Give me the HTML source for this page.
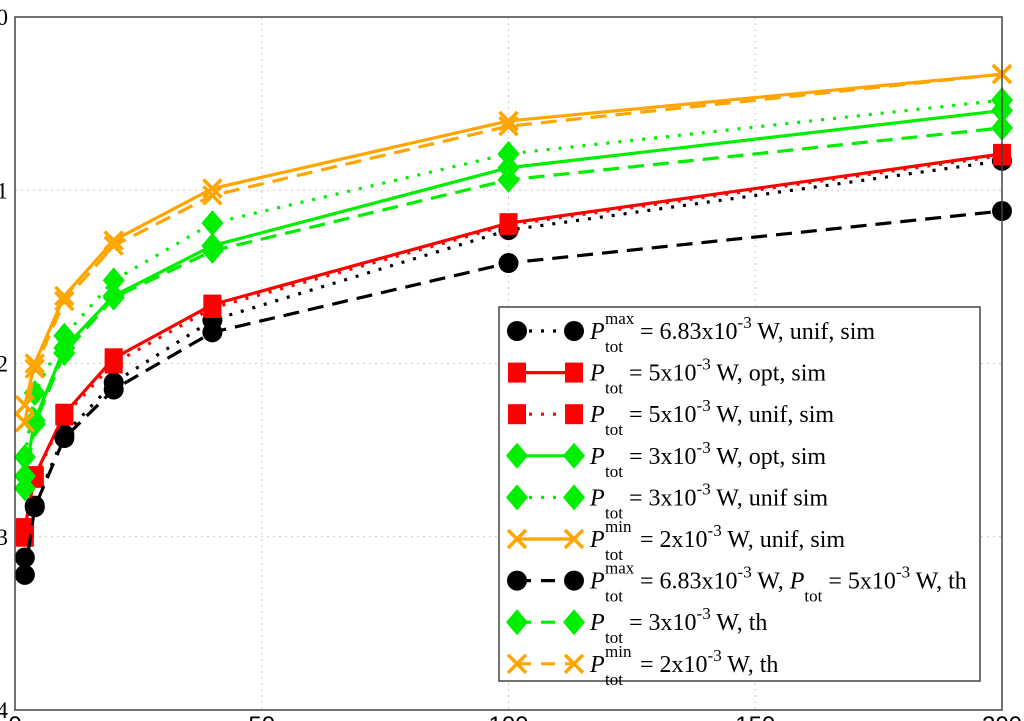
<!DOCTYPE html>
<html><head><meta charset="utf-8">
<style>
html,body{margin:0;padding:0;background:#fff;width:1024px;height:721px;overflow:hidden}
svg{display:block}
.tk{font-family:"Liberation Serif",serif;font-size:23px;fill:#000}
.tx{font-family:"Liberation Sans",sans-serif;font-size:24px;fill:#000}
.lg{font-family:"Liberation Serif",serif;font-size:24px;fill:#000}
.sm{font-size:17px}
</style></head>
<body>
<svg id="chart" width="1024" height="721" viewBox="0 0 1024 721">
<g id="grid"></g>
<g id="series"></g>
<rect x="15" y="17" width="987" height="693" fill="none" stroke="#444" stroke-width="1.5"/>
<g id="ticks"></g>
<g id="legend"></g>
</svg>
<script>
const xVals=[2,4,10,20,40,100,200];
const blackUnif=[3.12,2.82,2.41,2.11,1.75,1.23,0.83];
const redOpt=[2.95,2.65,2.29,1.97,1.66,1.19,0.79];
const redUnif=[3.0,2.66,2.30,2.0,1.68,1.20,0.80];
const greenOpt=[2.65,2.33,1.91,1.61,1.32,0.87,0.54];
const greenUnif=[2.54,2.17,1.84,1.52,1.19,0.79,0.48];
const orangeUnif=[2.24,2.0,1.61,1.29,0.99,0.60,0.33];
const blackTh=[3.22,2.83,2.43,2.15,1.82,1.42,1.12];
const greenTh=[2.72,2.35,1.94,1.62,1.35,0.94,0.64];
const orangeTh=[2.34,2.03,1.64,1.32,1.03,0.63,0.33];
const xTicks=[0,50,100,150,200];
const yTicks=[0,1,2,3,4];

const NS='http://www.w3.org/2000/svg';
const X0=15,X1=1002,Y0=17,Y1=710;
function sx(v){return X0+(v-0)/(200-0)*(X1-X0);}
function sy(v){return Y0+(v-0)/(4-0)*(Y1-Y0);}
function mk(tag,attrs,parent){const e=document.createElementNS(NS,tag);for(const k in attrs)e.setAttribute(k,attrs[k]);parent.appendChild(e);return e;}
const grid=document.getElementById('grid'),ticks=document.getElementById('ticks'),ser=document.getElementById('series'),leg=document.getElementById('legend');

xTicks.forEach(t=>{
  if(t>0&&t<200){const l=mk('line',{x1:sx(t),x2:sx(t),y1:Y0,y2:Y1,stroke:'#ccc','stroke-width':1,'stroke-dasharray':'2,4'},grid);
  
  }
  const tx=mk('text',{x:sx(t),y:733,'text-anchor':'middle',class:'tx'},ticks);tx.textContent=t;
  
  
});
yTicks.forEach(t=>{
  if(t>0&&t<4){const l=mk('line',{x1:X0,x2:X1,y1:sy(t),y2:sy(t),stroke:'#ccc','stroke-width':1,'stroke-dasharray':'2,4'},grid);
  
  }
  const tx=mk('text',{x:8,y:sy(t)+8,'text-anchor':'end',class:'tk'},ticks);tx.textContent=t;
  
  
});

function marker(type,color,x,y,g){
  if(type==='c')mk('circle',{cx:x,cy:y,r:10,fill:color},g);
  else if(type==='s')mk('rect',{x:x-9,y:y-10,width:18,height:20,fill:color},g);
  else if(type==='d')mk('polygon',{points:`${x},${y-13} ${x+11},${y} ${x},${y+13} ${x-11},${y}`,fill:color},g);
  else if(type==='x'){mk('path',{d:`M${x-9},${y-9}L${x+9},${y+9}M${x-9},${y+9}L${x+9},${y-9}`,stroke:color,'stroke-width':3.5,fill:'none'},g);}
}
const dashes={solid:'',dot:'3,9',dash:'16,9'};
const series=[
 {n:'black-unif-sim',d:blackUnif,c:'#000',m:'c',s:'dot'},
 {n:'red-opt-sim',d:redOpt,c:'#f00',m:'s',s:'solid'},
 {n:'red-unif-sim',d:redUnif,c:'#f00',m:'s',s:'dot'},
 {n:'green-opt-sim',d:greenOpt,c:'#0e0',m:'d',s:'solid'},
 {n:'green-unif-sim',d:greenUnif,c:'#0e0',m:'d',s:'dot'},
 {n:'orange-unif-sim',d:orangeUnif,c:'#ffa500',m:'x',s:'solid'},
 {n:'black-th',d:blackTh,c:'#000',m:'c',s:'dash'},
 {n:'green-th',d:greenTh,c:'#0e0',m:'d',s:'dash'},
 {n:'orange-th',d:orangeTh,c:'#ffa500',m:'x',s:'dash'}
];
series.forEach(S=>{
  const g=mk('g',{},ser);
  
  
  const pts=S.d.map((v,i)=>sx(xVals[i])+','+sy(v)).join(' ');
  const a={points:pts,fill:'none',stroke:S.c,'stroke-width':3.2};
  if(dashes[S.s])a['stroke-dasharray']=dashes[S.s];
  mk('polyline',a,g);
  S.d.forEach((v,i)=>marker(S.m,S.c,sx(xVals[i]),sy(v),g));
});

// legend
mk('rect',{x:499,y:307,width:481,height:374,fill:'#fff',stroke:'#444','stroke-width':1.5},leg);
const labels=[
 ['max','= 6.83x10','-3',' W, unif, sim'],
 ['','= 5x10','-3',' W, opt, sim'],
 ['','= 5x10','-3',' W, unif, sim'],
 ['','= 3x10','-3',' W, opt, sim'],
 ['','= 3x10','-3',' W, unif sim'],
 ['min','= 2x10','-3',' W, unif, sim'],
 ['max','= 6.83x10','-3',' W, P_tot = 5x10^-3 W, th'],
 ['','= 3x10','-3',' W, th'],
 ['min','= 2x10','-3',' W, th']
];
series.forEach((S,i)=>{
  const y=331+i*41.6;
  const g=mk('g',{},leg);
  
  
  const a={x1:517,x2:574,y1:y,y2:y,stroke:S.c,'stroke-width':3.2};
  if(dashes[S.s])a['stroke-dasharray']=S.s==='dot'?'3,9':'14,10';
  mk('line',a,g);
  marker(S.m,S.c,517,y,g);marker(S.m,S.c,574,y,g);
  const L=labels[i];
  const t=mk('text',{x:590,y:y+8,class:'lg'},g);
  const p=mk('tspan',{'font-style':'italic'},t);p.textContent='P';
  const sub=mk('tspan',{x:605,dy:13,class:'sm'},t);sub.textContent='tot';
  if(L[0]){const sp=mk('tspan',{x:605,dy:-28,class:'sm'},t);sp.textContent=L[0];}
  const startX=L[0]?640:629;
  const m=mk('tspan',{x:startX,dy:L[0]?15:-13},t);m.textContent=L[1];
  const e=mk('tspan',{dy:-11,class:'sm'},t);e.textContent=L[2];
  if(i===6){
    const r=mk('tspan',{dy:11},t);r.textContent=' W, ';
    const p2=mk('tspan',{'font-style':'italic'},t);p2.textContent='P';
    const s2=mk('tspan',{dy:13,class:'sm'},t);s2.textContent='tot';
    const r2=mk('tspan',{dy:-13},t);r2.textContent=' = 5x10';
    const e2=mk('tspan',{dy:-11,class:'sm'},t);e2.textContent='-3';
    const r3=mk('tspan',{dy:11},t);r3.textContent=' W, th';
  } else {
    const r=mk('tspan',{dy:11},t);r.textContent=L[3];
  }
});
</script>
</body></html>
